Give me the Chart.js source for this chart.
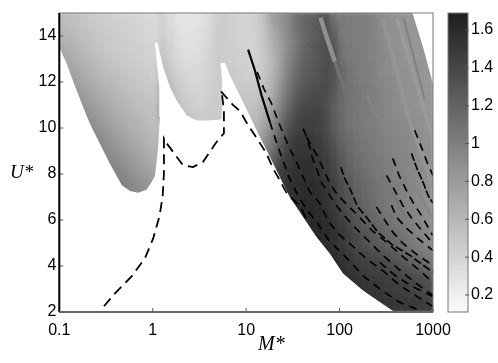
<!DOCTYPE html>
<html>
<head>
<meta charset="utf-8">
<style>
  html, body { margin: 0; padding: 0; background: #fff; }
  #wrap { position: relative; width: 498px; height: 363px; overflow: hidden; }
  #mainChart { position: absolute; left: 0; top: 0; }
  #barChart { position: absolute; left: 430px; top: 0; }
</style>
<script src="https://cdn.jsdelivr.net/npm/chart.js@4"></script>
</head>
<body>
<div id="wrap">
  <canvas id="mainChart" width="498" height="363"></canvas>
  <canvas id="barChart" width="68" height="363"></canvas>
</div>
<script>
const xTicks = [0.1, 1, 10, 100, 1000];
const yTicks = [2, 4, 6, 8, 10, 12, 14];
const barTicks = [0.2, 0.4, 0.6, 0.8, 1, 1.2, 1.4, 1.6];

// cell centres of the map
const cellLogM = [-0.958,-0.875,-0.792,-0.708,-0.625,-0.542,-0.458,-0.375,-0.292,-0.208,-0.125,-0.042,0.042,0.125,0.208,0.292,0.375,0.458,0.542,0.625,0.708,0.792,0.875,0.958,1.042,1.125,1.208,1.292,1.375,1.458,1.542,1.625,1.708,1.792,1.875,1.958,2.042,2.125,2.208,2.292,2.375,2.458,2.542,2.625,2.708,2.792,2.875,2.958];
const cellU = [14.83,14.5,14.17,13.83,13.5,13.17,12.83,12.5,12.17,11.83,11.5,11.17,10.83,10.5,10.17,9.83,9.5,9.17,8.83,8.5,8.17,7.83,7.5,7.17,6.83,6.5,6.17,5.83,5.5,5.17,4.83,4.5,4.17,3.83,3.5,3.17,2.83,2.5,2.17];

// values x100, columns 0-12
const lobeOne = [
  [57,55,52,50,47,45,43,42,41,40,38,36,34],
  [59,57,54,51,48,46,44,43,42,41,39,37,35],
  [62,59,56,53,50,47,45,44,43,42,40,38,36],
  [65,62,58,55,52,49,47,45,44,43,41,39,37],
  [69,65,61,57,54,51,48,46,45,44,42,40,38],
  [72,68,64,60,56,53,50,48,46,45,43,41,39],
  [76,71,67,63,59,55,52,50,48,46,44,42,40],
  [80,75,70,66,62,58,55,52,50,48,46,44,42],
  [84,79,74,70,65,61,58,55,52,50,48,46,44],
  [88,83,78,73,69,64,61,58,55,52,50,48,46],
  [92,87,82,77,72,68,64,60,57,54,52,50,48],
  [0,90,86,81,76,71,67,63,60,57,54,52,50],
  [0,94,90,85,80,75,70,66,62,59,56,54,52],
  [0,98,94,89,84,79,74,69,65,62,59,56,54],
  [0,0,97,93,88,83,78,73,68,65,62,58,56],
  [0,0,100,96,92,87,82,76,72,68,64,61,58],
  [0,0,0,100,96,91,85,80,75,71,67,63,60],
  [0,0,0,104,100,95,89,84,79,74,70,66,62],
  [0,0,0,0,103,98,93,88,83,78,73,69,65],
  [0,0,0,0,106,102,97,92,87,82,77,72,68],
  [0,0,0,0,0,104,100,96,91,86,81,76,71],
  [0,0,0,0,0,108,104,100,95,90,85,80,75],
  [0,0,0,0,0,0,106,103,99,94,89,84,79],
  [0,0,0,0,0,0,0,104,98,94,90,86,82],
  [0,0,0,0,0,0,0,0,100,96,92,88,0]
];

// values x100, columns 13-20
const lobeTwo = [
  [42,33,29,28,28,31,36,44],
  [42,34,30,28,28,31,36,44],
  [44,35,31,29,29,32,37,45],
  [46,37,32,30,30,33,38,45],
  [48,39,33,31,31,34,39,46],
  [50,41,35,32,32,35,40,46],
  [54,43,37,34,33,36,40,46],
  [58,47,39,36,35,37,41,46],
  [62,50,42,38,36,38,41,46],
  [66,54,45,40,38,39,42,46],
  [70,58,48,42,40,40,43,46],
  [72,62,51,45,42,41,44,46],
  [74,66,55,48,44,43,45,47],
  [78,70,58,51,47,45,46,47],
  [0,74,62,55,50,47,47,48],
  [0,0,66,58,52,49,48,48]
];

// values x100, each row ends at column 47
const outerBand = [
  [46,42,40,40,45,55,78,86,95,112,118,123,128,133,108,105,104,103,102,100,92,90,88,86,86,85,85],
  [46,42,40,40,44,54,76,85,94,110,118,124,130,134,113,105,104,103,102,100,92,90,88,86,86,85,85],
  [46,42,40,40,44,53,70,82,93,108,118,124,130,136,120,105,104,103,102,100,93,90,88,86,86,85,85],
  [46,43,41,40,43,52,66,80,92,106,118,124,130,136,126,106,104,103,102,100,93,91,88,87,86,85,85],
  [46,43,41,40,43,51,64,78,92,106,118,126,132,138,130,108,105,103,102,100,94,91,89,87,86,85,85],
  [46,44,42,41,43,50,62,76,94,108,120,126,132,138,134,110,106,104,102,100,94,92,89,87,86,85,85],
  [46,45,43,41,43,50,60,76,96,110,122,128,132,138,136,112,107,104,102,100,95,92,90,88,86,85,85],
  [46,46,44,42,44,50,60,78,98,112,124,128,134,138,134,116,108,105,103,100,95,93,90,88,87,86,85],
  [48,48,45,44,46,52,62,80,100,116,126,130,134,138,132,118,109,105,103,101,96,93,91,89,87,86,85],
  [47,47,46,48,54,64,84,104,120,130,134,138,140,132,118,110,106,104,101,97,94,91,89,87,86,85],
  [50,50,48,50,57,68,88,108,124,132,136,138,140,130,118,110,107,104,102,98,95,92,90,88,87,85],
  [52,52,50,52,60,72,92,112,130,136,140,142,138,128,116,110,107,105,102,98,95,93,90,89,87,86],
  [52,52,55,64,78,98,118,134,140,142,144,138,126,116,110,107,105,102,99,96,93,91,89,87,86],
  [55,55,58,68,84,104,124,138,144,146,145,139,126,116,110,106,104,102,99,96,94,92,90,88,86],
  [60,62,72,90,110,130,142,148,148,146,140,126,116,110,106,104,102,99,97,95,93,91,89,87],
  [64,66,78,96,116,136,146,150,150,147,140,128,118,112,108,105,103,100,98,96,94,92,90,88],
  [78,84,102,122,140,150,152,152,149,142,131,120,114,109,106,104,101,99,97,95,93,91,89],
  [84,90,108,128,144,152,154,154,151,144,134,123,116,111,108,105,102,100,98,96,93,91,89],
  [105,114,134,148,154,156,156,153,147,137,126,118,113,109,106,103,101,99,97,94,92,90],
  [112,120,140,150,156,158,158,154,149,140,128,120,115,110,107,104,102,100,98,95,92,90],
  [120,128,146,152,158,160,160,155,150,142,130,122,117,112,108,105,102,100,98,95,92,90],
  [146,150,156,160,160,160,157,152,145,133,125,119,114,110,106,103,101,99,96,93,90],
  [148,152,158,160,162,162,159,154,147,136,128,121,116,112,108,104,102,100,97,93,90],
  [156,158,160,162,162,160,156,148,138,130,123,118,113,109,105,102,100,97,93,90],
  [158,160,162,162,162,157,149,140,132,124,119,114,110,105,103,100,98,93,90],
  [158,160,162,164,162,158,150,142,134,126,120,115,110,106,103,100,98,94,90],
  [160,162,164,163,160,153,145,137,129,123,118,113,108,105,102,99,95,91],
  [162,164,164,161,155,148,140,132,126,121,116,111,107,103,100,96,92],
  [162,164,164,162,157,151,144,136,130,125,120,115,110,106,102,98,94],
  [162,164,164,163,159,154,148,141,135,130,125,120,115,110,104,99,96],
  [162,164,162,158,152,146,140,136,132,128,124,118,112,105,100,98],
  [162,163,160,155,150,145,141,137,134,130,125,118,112,106,102],
  [162,162,158,153,149,146,143,140,137,133,128,122,116,110],
  [162,163,160,156,152,149,147,145,142,139,135,130,125,118],
  [161,161,158,154,151,149,148,146,144,141,138,133,127],
  [160,160,158,156,154,152,150,148,146,144,140,136],
  [160,160,158,156,154,152,150,148,146,142,139],
  [158,157,156,154,152,151,149,147,144],
  [158,157,156,156,154,154,152,150]
];

// stability boundary, white below it
const edgeLogM = [-1,-0.921,-0.843,-0.76,-0.672,-0.565,-0.458,-0.372,-0.33,-0.244,-0.158,-0.065,-0.012,0.024,0.059,0.077,0.07,0.042,0.024,0.05,0.112,0.184,0.256,0.363,0.47,0.594,0.737,0.748,0.743,0.726,0.729,0.772,0.826,0.914,1.004,1.093,1.182,1.272,1.36,1.467,1.61,1.753,1.895,2.037,2.251,2.43,2.572,2.61,-1];
const edgeU = [13.51,12.8,11.93,11.06,10.19,9.32,8.45,7.81,7.51,7.26,7.19,7.32,7.65,7.9,9.17,10.48,11.78,12.94,13.71,13.71,12.65,11.78,11.2,10.55,10.33,10.33,10.37,11.2,12.07,12.8,12.83,12.83,12.29,11.57,10.81,10.07,9.33,8.6,7.87,7.0,6.13,5.26,4.54,3.67,2.94,2.43,2.04,2,2];
const cornerLogM = [2.78,2.893,3,3];
const cornerU = [15,13.52,11.91,15];

// light and dark stripes on the right
const stripeOneLogM = [1.796,1.86,1.949];
const stripeOneU = [14.8,13.97,12.89];
const stripeTwoLogM = [1.949,2.023,2.07];
const stripeTwoU = [12.89,12.03,11.43];
const stripeThreeLogM = [2.462,2.751,2.87,3];
const stripeThreeU = [14.77,10.29,9.0,7.5];
const stripeFourLogM = [2.612,2.933,3];
const stripeFourU = [14.77,10.43,9.5];
const stripeFiveLogM = [2.686,2.911];
const stripeFiveU = [14.77,11.21];
const stripeSixLogM = [2.29,2.43,2.644,2.99];
const stripeSixU = [11.43,10.3,8.73,6.1];
const stripeSevenLogM = [2.13,2.259,2.43,2.697];
const stripeSevenU = [11.2,9.68,8.16,6.2];

// dashed curves
const curveLLogM = [-0.522,-0.404,-0.226,-0.083,0.005,0.07,0.106,0.12,0.12,0.149,0.323,0.43,0.537,0.683,0.762,0.762,0.737,0.726,0.861,0.933,1.021,1.128,1.218,1.289,1.36,1.435,1.585,1.66];
const curveLU = [2.25,2.81,3.55,4.34,5.2,6.13,7.0,8.03,9.55,9.34,8.38,8.3,8.52,9.39,9.77,10.77,11.61,11.61,10.99,10.74,10.12,9.47,8.89,8.23,7.73,7.16,6.55,5.9];
const curveSolidLogM = [1.021,1.093,1.165,1.254];
const curveSolidU = [13.41,12.51,11.42,10.26];
const curveALogM = [1.254,1.342,1.457,1.542,1.638,1.756,1.885,2.077,2.27,2.451,2.644,2.857];
const curveAU = [10.26,9.17,7.87,7.16,6.51,5.9,5.12,4.34,3.51,2.94,2.42,2.07];
const curveBLogM = [1.118,1.189,1.272,1.332,1.396,1.467,1.539,1.61,1.681,1.788,1.874,1.981,2.13,2.28,2.483,2.644,2.857,2.997];
const curveBU = [12.43,11.71,11.06,10.41,9.76,9.1,8.52,7.87,7.22,6.73,5.99,5.42,4.9,4.34,3.73,3.16,2.6,2.25];
const curveCLogM = [1.61,1.663,1.699,1.753,1.81,1.895,1.981,2.077,2.173,2.302,2.451,2.622,2.804,2.997];
const curveCU = [9.97,9.47,8.81,8.23,7.6,7.07,6.55,6.07,5.64,5.12,4.51,3.9,3.29,2.73];
const curveDLogM = [1.646,1.759,1.824,1.895,1.981,2.088,2.195,2.345,2.516,2.697,2.857,2.997];
const curveDU = [9.61,8.81,8.23,7.6,7.07,6.64,6.2,5.55,4.99,4.34,3.81,3.29];
const curveELogM = [2.013,2.055,2.109,2.195,2.28,2.409,2.558,2.751,2.997];
const curveEU = [8.3,7.81,7.38,6.57,6.16,5.47,4.94,4.47,3.73];
const curveKLogM = [2.395,2.484,2.57,2.676,2.837,2.997];
const curveKU = [6.57,5.99,5.47,4.99,4.47,4.03];
const curveNLogM = [2.555,2.608,2.719,2.837,2.997];
const curveNU = [6.64,6.13,5.64,5.2,4.68];
const curveGLogM = [2.502,2.59,2.676,2.773,2.879,2.997];
const curveGU = [7.94,7.29,6.64,6.07,5.55,4.99];
const curveHLogM = [2.569,2.644,2.715,2.783,2.876,2.997];
const curveHU = [8.68,7.87,7.29,6.78,6.2,5.33];
const curveILogM = [2.804,2.882,2.94,3];
const curveIU = [9.9,9.1,8.47,7.94];
const curveJLogM = [2.769,2.836,2.893,2.947,3];
const curveJU = [8.9,8.16,7.65,7.07,6.73];
const curveMLogM = [2.43,2.59,2.772,2.997];
const curveMU = [4.16,3.6,3.12,2.68];

// top of each colour bar step
const barLevels = [0.135,0.159,0.184,0.209,0.233,0.258,0.283,0.308,0.332,0.357,0.382,0.406,0.431,0.456,0.48,0.505,0.53,0.554,0.579,0.604,0.629,0.653,0.678,0.703,0.727,0.752,0.777,0.801,0.826,0.851,0.876,0.9,0.925,0.95,0.974,0.999,1.024,1.048,1.073,1.098,1.122,1.147,1.172,1.197,1.221,1.246,1.271,1.295,1.32,1.345,1.369,1.394,1.419,1.443,1.468,1.493,1.518,1.542,1.567,1.592,1.616,1.641,1.666,1.69];

const colorMin = 0.11;
const colorMax = 1.69;

function grayFor(value) {
  const t = Math.min(1, Math.max(0, (value - colorMin) / (colorMax - colorMin)));
  const g = Math.round(252 - t * 222);
  return `rgb(${g},${g},${g})`;
}

function toPoints(logM, u) {
  return logM.map((v, i) => ({ x: Math.pow(10, v), y: u[i] }));
}

function buildCells() {
  const cells = [];
  const addRow = (row, r, startCol) => {
    row.forEach((v, i) => {
      if (v > 0) {
        cells.push({ x: Math.pow(10, cellLogM[startCol + i]), y: cellU[r], v: v / 100 });
      }
    });
  };
  lobeOne.forEach((row, r) => addRow(row, r, 0));
  lobeTwo.forEach((row, r) => addRow(row, r, 13));
  outerBand.forEach((row, r) => addRow(row, r, cellLogM.length - row.length));
  return cells;
}

function curveSet(logM, u, dash, width) {
  return {
    data: toPoints(logM, u),
    showLine: true,
    borderColor: '#000',
    borderWidth: width,
    borderDash: dash,
    pointRadius: 0,
    fill: false,
    tension: 0,
    order: 1
  };
}

function stripeSet(logM, u, value, width) {
  return {
    data: toPoints(logM, u),
    showLine: true,
    borderColor: grayFor(value),
    borderWidth: width,
    pointRadius: 0,
    fill: false,
    order: 8
  };
}

function maskSet(logM, u) {
  return {
    data: toPoints(logM, u),
    showLine: true,
    borderColor: '#fff',
    borderWidth: 0,
    backgroundColor: '#fff',
    pointRadius: 0,
    fill: 'shape',
    order: 5
  };
}

// soften the cell mosaic, the original map is much finer than my grid
const softCells = {
  id: 'softCells',
  beforeDatasetDraw(chart, args) {
    if (chart.data.datasets[args.index].isMap) {
      chart.ctx.save();
      chart.ctx.filter = 'blur(2.5px)';
    }
  },
  afterDatasetDraw(chart, args) {
    if (chart.data.datasets[args.index].isMap) {
      chart.ctx.restore();
    }
  }
};

const axisBox = {
  id: 'axisBox',
  afterDraw(chart, args, opts) {
    const { ctx, chartArea: a } = chart;
    ctx.save();
    ctx.strokeStyle = '#777';
    ctx.lineWidth = 1;
    ctx.strokeRect(a.left, a.top, a.right - a.left, a.bottom - a.top);
    (opts.ticksY || []).forEach((v) => {
      const py = chart.scales.y.getPixelForValue(v);
      ctx.strokeStyle = '#555';
      ctx.beginPath();
      if (opts.tickRightOnly) {
        ctx.moveTo(a.right + 1, py);
        ctx.lineTo(a.right - 3, py);
      } else {
        ctx.moveTo(a.left, py);
        ctx.lineTo(a.left + 4, py);
      }
      ctx.stroke();
    });
    (opts.ticksX || []).forEach((v) => {
      const px = chart.scales.x.getPixelForValue(v);
      ctx.strokeStyle = '#555';
      ctx.beginPath();
      ctx.moveTo(px, a.bottom);
      ctx.lineTo(px, a.bottom - 4);
      ctx.stroke();
    });
    if (opts.heavyEdges) {
      ctx.strokeStyle = '#000';
      ctx.lineWidth = 2;
      ctx.beginPath();
      ctx.moveTo(a.left, a.top);
      ctx.lineTo(a.left, a.bottom);
      ctx.stroke();
      ctx.strokeStyle = '#666';
      ctx.beginPath();
      ctx.moveTo(a.left, a.bottom);
      ctx.lineTo(a.right, a.bottom);
      ctx.stroke();
      ctx.fillStyle = '#000';
      ctx.textAlign = 'left';
      ctx.textBaseline = 'alphabetic';
      ctx.font = 'italic 20px "Liberation Serif"';
      ctx.fillText('M*', 258, 350);
      ctx.font = 'italic 19px "Liberation Serif"';
      ctx.fillText('U*', 10, 178);
    }
    ctx.restore();
  }
};

const tickFont = { family: '"Liberation Sans"', size: 16 };

new Chart(document.getElementById('mainChart'), {
  type: 'scatter',
  data: {
    datasets: [
      curveSet(curveLLogM, curveLU, [10, 6], 1.8),
      curveSet(curveSolidLogM, curveSolidU, [], 2.2),
      curveSet(curveALogM, curveAU, [8, 6], 1.7),
      curveSet(curveBLogM, curveBU, [8, 6], 1.7),
      curveSet(curveCLogM, curveCU, [8, 6], 1.7),
      curveSet(curveDLogM, curveDU, [8, 6], 1.7),
      curveSet(curveELogM, curveEU, [8, 3], 1.7),
      curveSet(curveKLogM, curveKU, [8, 6], 1.7),
      curveSet(curveNLogM, curveNU, [8, 6], 1.7),
      curveSet(curveGLogM, curveGU, [8, 6], 1.7),
      curveSet(curveHLogM, curveHU, [8, 6], 1.7),
      curveSet(curveILogM, curveIU, [8, 6], 1.7),
      curveSet(curveJLogM, curveJU, [8, 2], 1.7),
      curveSet(curveMLogM, curveMU, [8, 6], 1.7),
      maskSet(edgeLogM, edgeU),
      maskSet(cornerLogM, cornerU),
      stripeSet(stripeOneLogM, stripeOneU, 0.88, 4.5),
      stripeSet(stripeTwoLogM, stripeTwoU, 1.1, 3.5),
      stripeSet(stripeThreeLogM, stripeThreeU, 0.84, 4),
      stripeSet(stripeFourLogM, stripeFourU, 0.8, 3.5),
      stripeSet(stripeFiveLogM, stripeFiveU, 0.98, 2),
      stripeSet(stripeSixLogM, stripeSixU, 0.96, 2.5),
      stripeSet(stripeSevenLogM, stripeSevenU, 1.06, 2.5),
      {
        isMap: true,
        data: buildCells(),
        pointStyle: 'rect',
        pointRadius: 8,
        pointBorderWidth: 0,
        pointBackgroundColor: (c) => grayFor(c.raw ? c.raw.v : 0),
        order: 9
      }
    ]
  },
  options: {
    responsive: false,
    animation: false,
    events: [],
    layout: { padding: { top: 13, right: 65 } },
    plugins: {
      legend: { display: false },
      tooltip: { enabled: false },
      axisBox: { ticksX: xTicks, ticksY: yTicks, heavyEdges: true }
    },
    scales: {
      x: {
        type: 'logarithmic',
        min: 0.1,
        max: 1000,
        afterBuildTicks: (s) => { s.ticks = xTicks.map((v) => ({ value: v })); },
        afterFit: (s) => { s.height = 51; },
        grid: { display: false, drawTicks: false },
        border: { display: false },
        ticks: {
          color: '#000',
          font: tickFont,
          padding: 9,
          autoSkip: false,
          maxRotation: 0,
          callback: (v) => String(v)
        }
      },
      y: {
        min: 2,
        max: 15,
        afterBuildTicks: (s) => { s.ticks = yTicks.map((v) => ({ value: v })); },
        afterFit: (s) => { s.width = 59.3; },
        grid: { display: false, drawTicks: false },
        border: { display: false },
        ticks: { color: '#000', font: tickFont, padding: 3 }
      }
    }
  },
  plugins: [softCells, axisBox]
});

new Chart(document.getElementById('barChart'), {
  type: 'bar',
  data: {
    labels: [''],
    datasets: barLevels.map((top) => ({
      data: [[colorMin, top]],
      backgroundColor: grayFor(top - 0.012),
      barPercentage: 1,
      categoryPercentage: 1,
      grouped: false
    }))
  },
  options: {
    responsive: false,
    animation: false,
    events: [],
    layout: { padding: { top: 13, left: 18 } },
    plugins: {
      legend: { display: false },
      tooltip: { enabled: false },
      axisBox: { ticksY: barTicks, tickRightOnly: true }
    },
    scales: {
      x: {
        display: true,
        afterFit: (s) => { s.height = 51; },
        grid: { display: false, drawTicks: false },
        border: { display: false },
        ticks: { display: false }
      },
      y: {
        position: 'right',
        min: colorMin,
        max: colorMax,
        afterBuildTicks: (s) => { s.ticks = barTicks.map((v) => ({ value: v })); },
        afterFit: (s) => { s.width = 30; },
        grid: { display: false, drawTicks: false },
        border: { display: false },
        ticks: { color: '#000', font: tickFont, padding: 3, callback: (v) => String(v) }
      }
    }
  },
  plugins: [axisBox]
});
</script>
</body>
</html>
